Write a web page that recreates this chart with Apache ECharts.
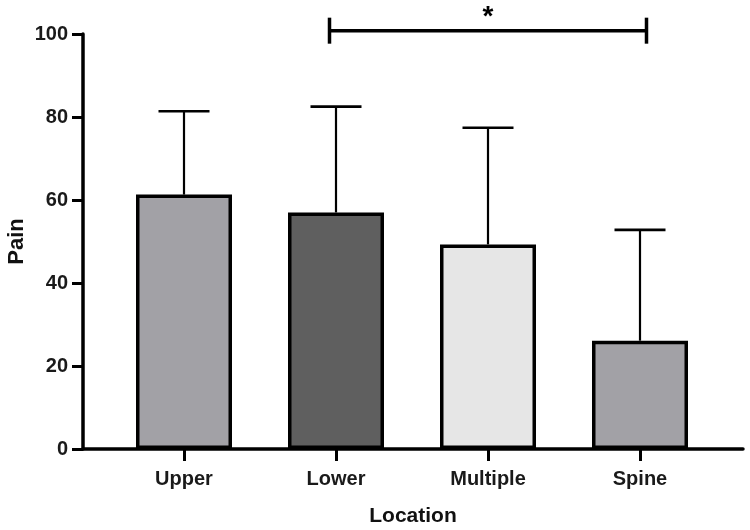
<!DOCTYPE html>
<html><head><meta charset="utf-8">
<script src="https://cdn.jsdelivr.net/npm/echarts@6/dist/echarts.min.js"></script>
<style>html,body{margin:0;padding:0;background:#fff}#c{width:750px;height:530px}</style>
</head><body><div id="c"></div>
<script>
// ---- data ----
const categories = ['Upper', 'Lower', 'Multiple', 'Spine'];
const means = [61.3, 57.0, 49.3, 26.1];
const errUpper = [81.4, 82.5, 77.4, 52.8];
const barColors = ['#a2a1a6', '#5f5f5f', '#e6e6e6', '#a2a1a6'];
const yMin = 0, yMax = 100, yInterval = 20;
const comparisonFrom = 1, comparisonTo = 3, comparisonLevel = 100.8, comparisonLabel = '*';
const xName = 'Location', yName = 'Pain';

const FONT = '"Liberation Sans", Arial, Helvetica, sans-serif';
const chart = echarts.init(document.getElementById('c'), null, {renderer: 'canvas'});

const option = {
  animation: false,
  backgroundColor: '#fff',
  grid: [
    {left: 83, right: 7, top: 34, bottom: 81, containLabel: false, outerBoundsMode: 'none'},
    {left: 108, right: 34, top: 34, bottom: 81, containLabel: false, outerBoundsMode: 'none'}
  ],
  xAxis: [
    {
      gridIndex: 0, type: 'value', min: 0, max: 1,
      name: xName, nameLocation: 'middle', nameGap: 57, nameMoveOverlap: false,
      nameTextStyle: {fontFamily: FONT, fontWeight: 'bold', fontSize: 21, color: '#111'},
      axisLine: {show: true, onZero: false, lineStyle: {color: '#000', width: 3.5}},
      axisTick: {show: false}, axisLabel: {show: false}, splitLine: {show: false}
    },
    {
      gridIndex: 1, type: 'category', data: categories, boundaryGap: true,
      axisLine: {show: false},
      axisTick: {show: true, alignWithLabel: true, length: 12, lineStyle: {color: '#000', width: 3}},
      axisLabel: {show: true, margin: 20, fontFamily: FONT, fontWeight: 'bold', fontSize: 20, color: '#1a1a1a'},
      splitLine: {show: false}
    }
  ],
  yAxis: [
    {
      gridIndex: 0, type: 'value', min: yMin, max: yMax, interval: yInterval,
      name: yName, nameLocation: 'middle', nameGap: 55, nameRotate: 90, nameMoveOverlap: false,
      nameTextStyle: {fontFamily: FONT, fontWeight: 'bold', fontSize: 22, color: '#111'},
      axisLine: {show: true, onZero: false, lineStyle: {color: '#000', width: 3.5}},
      axisTick: {show: true, length: 11, lineStyle: {color: '#000', width: 3}},
      axisLabel: {margin: 15, fontFamily: FONT, fontWeight: 'bold', fontSize: 20, color: '#1a1a1a'},
      splitLine: {show: false}
    },
    {
      gridIndex: 1, type: 'value', min: yMin, max: yMax, interval: yInterval, show: false
    }
  ],
  series: [
    {
      type: 'custom', xAxisIndex: 1, yAxisIndex: 1, clip: false, z: 1,
      data: categories.map((c, i) => [i, means[i], errUpper[i]]),
      encode: {x: 0, y: [1, 2]},
      renderItem: function (params, api) {
        const p0 = api.coord([api.value(0), api.value(1)]);
        const p1 = api.coord([api.value(0), api.value(2)]);
        const half = 25.5;
        return {
          type: 'group',
          children: [
            {type: 'line', shape: {x1: p0[0], y1: p0[1], x2: p1[0], y2: p1[1]}, style: {stroke: '#000', lineWidth: 2.2}},
            {type: 'line', shape: {x1: p1[0] - half, y1: p1[1], x2: p1[0] + half, y2: p1[1]}, style: {stroke: '#000', lineWidth: 2.6}}
          ]
        };
      }
    },
    {
      type: 'bar', xAxisIndex: 1, yAxisIndex: 1, z: 2,
      barWidth: 96,
      data: means.map((v, i) => ({value: v, itemStyle: {color: barColors[i]}})),
      itemStyle: {borderColor: '#000', borderWidth: 3.5}
    },
    {
      type: 'custom', xAxisIndex: 1, yAxisIndex: 1, clip: false, z: 3,
      data: [[comparisonFrom, comparisonTo, comparisonLevel]],
      encode: {x: [0, 1], y: 2},
      renderItem: function (params, api) {
        const a = api.coord([api.value(0), api.value(2)]);
        const b = api.coord([api.value(1), api.value(2)]);
        const ext = 6.5, h = 13;
        const x1 = a[0] - ext, x2 = b[0] + ext, y = a[1];
        return {
          type: 'group',
          children: [
            {type: 'line', shape: {x1: x1, y1: y, x2: x2, y2: y}, style: {stroke: '#000', lineWidth: 3.5}},
            {type: 'line', shape: {x1: x1, y1: y - h, x2: x1, y2: y + h}, style: {stroke: '#000', lineWidth: 3.5}},
            {type: 'line', shape: {x1: x2, y1: y - h, x2: x2, y2: y + h}, style: {stroke: '#000', lineWidth: 3.5}},
            {type: 'text', style: {text: comparisonLabel, x: (x1 + x2) / 2, y: y - 13, align: 'center', verticalAlign: 'middle',
              font: 'bold 28px ' + FONT, fill: '#000'}}
          ]
        };
      }
    }
  ]
};
chart.setOption(option);
</script>
</body></html>
